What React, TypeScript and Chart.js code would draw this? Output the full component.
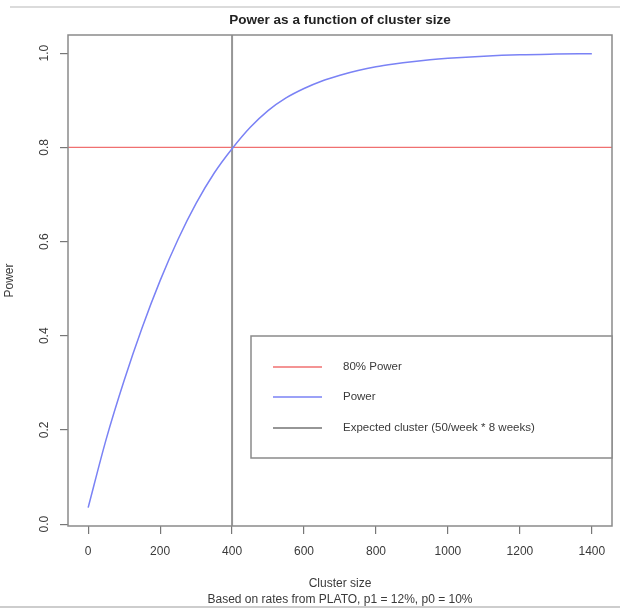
import { useEffect, useRef } from 'react';
import { Chart, registerables } from 'chart.js';

Chart.register(...registerables);

// ---- data ----
const clusterSizes = [0, 50, 100, 150, 200, 250, 300, 350, 400, 450, 500, 550, 600, 650, 700, 750, 800, 850, 900, 950, 1000, 1100, 1200, 1300, 1400];
const powerValues = [0.035, 0.18, 0.305, 0.417, 0.517, 0.605, 0.681, 0.745, 0.797, 0.842, 0.878, 0.905, 0.925, 0.941, 0.953, 0.963, 0.971, 0.977, 0.982, 0.986, 0.989, 0.9935, 0.9965, 0.998, 0.999];
const targetPower = 0.8;
const expectedCluster = 400;
const xTicks = [0, 200, 400, 600, 800, 1000, 1200, 1400];
const yTicks = [0, 0.2, 0.4, 0.6, 0.8, 1.0];
const yTickLabels = ['0.0', '0.2', '0.4', '0.6', '0.8', '1.0'];
const xMin = -56;
const xMax = 1456;
const yMin = -0.004;
const yMax = 1.0386;
const seriesLabels = ['80% Power', 'Power', 'Expected cluster (50/week * 8 weeks)'];
const seriesColors = ['rgb(240,112,112)', 'rgb(122,130,245)', 'rgb(150,150,150)'];
const titleText = 'Power as a function of cluster size';
const xTitle = 'Cluster size';
const subTitle = 'Based on rates from PLATO, p1 = 12%, p0 = 10%';
const yTitle = 'Power';

const FONT = '"Liberation Sans", Arial, Helvetica, sans-serif';

const decorPlugin = {
  id: 'decor',
  afterDraw(chart: any) {
    const ctx = chart.ctx;
    const a = chart.chartArea;
    const ys = chart.scales.y;
    ctx.save();
    // page edge lines
    ctx.strokeStyle = '#cfcfcf';
    ctx.lineWidth = 1.5;
    ctx.beginPath();
    ctx.moveTo(10, 7);
    ctx.lineTo(620, 7);
    ctx.stroke();
    ctx.strokeStyle = '#bdbdbd';
    ctx.beginPath();
    ctx.moveTo(0, 607);
    ctx.lineTo(620, 607);
    ctx.stroke();

    // plot box
    ctx.strokeStyle = '#8a8a8a';
    ctx.lineWidth = 1.5;
    ctx.strokeRect(a.left, a.top, a.right - a.left, a.bottom - a.top);

    // title
    ctx.fillStyle = '#222';
    ctx.font = 'bold 13.5px ' + FONT;
    ctx.textAlign = 'center';
    ctx.textBaseline = 'middle';
    const cx = (a.left + a.right) / 2;
    ctx.fillText(titleText, cx, 20);

    // x titles
    ctx.fillStyle = '#3a3a3a';
    ctx.font = '12px ' + FONT;
    ctx.fillText(xTitle, cx, 584);
    ctx.fillText(subTitle, cx, 600);

    // y tick labels (rotated)
    yTicks.forEach((v, i) => {
      const py = ys.getPixelForValue(v);
      ctx.save();
      ctx.translate(45, py);
      ctx.rotate(-Math.PI / 2);
      ctx.fillText(yTickLabels[i], 0, 0);
      ctx.restore();
    });

    // y title
    ctx.save();
    ctx.translate(10, (a.top + a.bottom) / 2);
    ctx.rotate(-Math.PI / 2);
    ctx.fillText(yTitle, 0, 0);
    ctx.restore();

    // legend
    const lx = 251, ly = 336, lw = a.right - 251, lh = 122;
    ctx.fillStyle = '#fff';
    ctx.fillRect(lx, ly, lw, lh);
    ctx.strokeStyle = '#8a8a8a';
    ctx.lineWidth = 1.5;
    ctx.strokeRect(lx, ly, lw, lh);
    const rows = [367, 397, 428];
    const widths = [1.3, 1.5, 2];
    ctx.font = '11.5px ' + FONT;
    ctx.textAlign = 'left';
    ctx.textBaseline = 'middle';
    chart.data.datasets.forEach((ds: any, i: number) => {
      const ry = rows[i];
      ctx.strokeStyle = ds.borderColor;
      ctx.lineWidth = widths[i];
      ctx.beginPath();
      ctx.moveTo(273, ry);
      ctx.lineTo(322, ry);
      ctx.stroke();
      ctx.fillStyle = '#3a3a3a';
      ctx.fillText(ds.label, 343, ry);
    });
    ctx.restore();
  },
};

export default function App() {
  const ref = useRef<HTMLCanvasElement>(null);
  useEffect(() => {
    if (!ref.current) return;
    const chart = new Chart(ref.current, {
      type: 'line',
      data: {
        datasets: [
          {
            label: seriesLabels[0],
            data: [{ x: xMin, y: targetPower }, { x: xMax, y: targetPower }],
            borderColor: seriesColors[0],
            borderWidth: 1.3,
            pointRadius: 0,
            order: 2,
          },
          {
            label: seriesLabels[1],
            data: clusterSizes.map((x, i) => ({ x, y: powerValues[i] })),
            borderColor: seriesColors[1],
            borderWidth: 1.5,
            pointRadius: 0,
            cubicInterpolationMode: 'monotone',
            order: 0,
          },
          {
            label: seriesLabels[2],
            data: [{ x: expectedCluster, y: yMin }, { x: expectedCluster, y: yMax }],
            borderColor: seriesColors[2],
            borderWidth: 2,
            pointRadius: 0,
            order: 1,
          },
        ],
      } as any,
      options: {
        responsive: false,
        animation: false,
        devicePixelRatio: 1,
        layout: { padding: { top: 35, right: 8, left: 0, bottom: 0 } },
        plugins: { legend: { display: false }, tooltip: { enabled: false }, title: { display: false } },
        scales: {
          x: {
            type: 'linear',
            min: xMin,
            max: xMax,
            afterBuildTicks: (s: any) => { s.ticks = xTicks.map((v) => ({ value: v })); },
            afterFit: (s: any) => { s.height = 84; },
            ticks: {
              autoSkip: false,
              maxRotation: 0,
              padding: 10,
              color: '#3a3a3a',
              font: { family: FONT, size: 12 },
              callback: (v: any) => String(v),
            },
            grid: { drawOnChartArea: false, drawTicks: true, tickLength: 8, color: '#777', lineWidth: 1.2 },
            border: { display: false },
          },
          y: {
            type: 'linear',
            min: yMin,
            max: yMax,
            afterBuildTicks: (s: any) => { s.ticks = yTicks.map((v) => ({ value: v })); },
            afterFit: (s: any) => { s.width = 68; },
            ticks: { display: false },
            grid: { drawOnChartArea: false, drawTicks: true, tickLength: 8, color: '#777', lineWidth: 1.2 },
            border: { display: false },
          },
        },
      } as any,
      plugins: [decorPlugin],
    });
    return () => chart.destroy();
  }, []);
  return (
    <div style={{ position: 'absolute', left: 0, top: 0, width: 620, height: 610, background: '#fff' }}>
      <canvas ref={ref} width={620} height={610} style={{ display: 'block' }} />
    </div>
  );
}
